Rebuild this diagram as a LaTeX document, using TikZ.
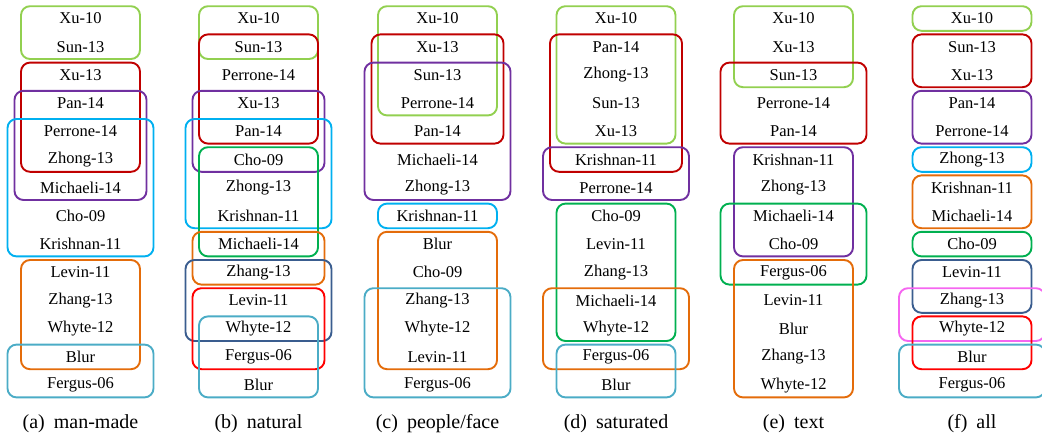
\documentclass[tikz,border=0pt]{standalone}
\usepackage{fontspec}
\setmainfont{Liberation Serif}
\usepackage{xcolor}
\usepackage{tikz}
\usetikzlibrary{fit}

\definecolor{lgreen}{HTML}{92D050}
\definecolor{dred}{HTML}{C00000}
\definecolor{mpurple}{HTML}{7030A0}
\definecolor{mcyan}{HTML}{00B0F0}
\definecolor{morange}{HTML}{E46C0A}
\definecolor{mteal}{HTML}{4BACC6}
\definecolor{mgreen}{HTML}{00B050}
\definecolor{mnavy}{HTML}{3A5D8F}
\definecolor{mred}{HTML}{FF0000}
\definecolor{mpink}{HTML}{F566F0}

\begin{document}
\begin{tikzpicture}[
    x=1pt, y=-1pt,
    method/.style={inner sep=0pt, font=\fontsize{16.5}{18}\selectfont},
    subcap/.style={inner sep=0pt, font=\fontsize{20}{22}\selectfont},
    grp/.style={draw=#1, rounded corners=9pt, line width=1.9pt, inner ysep=12.3pt},
    narrow/.style={inner xsep=59.5pt},
    mid/.style={inner xsep=66pt},
    wide/.style={inner xsep=73pt}
  ]
  \useasboundingbox (0,0) rectangle (1042,439);

  % method names, one column per image class
  \foreach \name [count=\r from 0] in {Xu-10,Sun-13,Xu-13,Pan-14,Perrone-14,Zhong-13,Michaeli-14,Cho-09,Krishnan-11,Levin-11,Zhang-13,Whyte-12,Blur,Fergus-06}
    \node[method] (a\r) at (80.5,{18.5+28.2*\r}) {\name};
  \foreach \name [count=\r from 0] in {Xu-10,Sun-13,Perrone-14,Xu-13,Pan-14,Cho-09,Zhong-13,Krishnan-11,Michaeli-14,Zhang-13,Levin-11,Whyte-12,Fergus-06,Blur}
    \node[method] (b\r) at (258.5,{18.5+28.2*\r}) {\name};
  \foreach \name [count=\r from 0] in {Xu-10,Xu-13,Sun-13,Perrone-14,Pan-14,Michaeli-14,Zhong-13,Krishnan-11,Blur,Cho-09,Zhang-13,Whyte-12,Levin-11,Fergus-06}
    \node[method] (c\r) at (437.5,{18.5+28.2*\r}) {\name};
  \foreach \name [count=\r from 0] in {Xu-10,Pan-14,Zhong-13,Sun-13,Xu-13,Krishnan-11,Perrone-14,Cho-09,Levin-11,Zhang-13,Michaeli-14,Whyte-12,Fergus-06,Blur}
    \node[method] (d\r) at (616,{18.5+28.2*\r}) {\name};
  \foreach \name [count=\r from 0] in {Xu-10,Xu-13,Sun-13,Perrone-14,Pan-14,Krishnan-11,Zhong-13,Michaeli-14,Cho-09,Fergus-06,Levin-11,Blur,Zhang-13,Whyte-12}
    \node[method] (e\r) at (793.5,{18.5+28.2*\r}) {\name};
  \foreach \name [count=\r from 0] in {Xu-10,Sun-13,Xu-13,Pan-14,Perrone-14,Zhong-13,Krishnan-11,Michaeli-14,Cho-09,Levin-11,Zhang-13,Whyte-12,Blur,Fergus-06}
    \node[method] (f\r) at (972,{18.5+28.2*\r}) {\name};

  % (a) man-made
  \node[grp=lgreen, narrow, fit=(a0.center)(a1.center)] (ga1) {};
  \node[grp=dred, narrow, fit=(a2.center)(a5.center)] (ga2) {};
  \node[grp=mpurple, mid, fit=(a3.center)(a6.center)] (ga3) {};
  \node[grp=mcyan, wide, fit=(a4.center)(a8.center)] (ga4) {};
  \node[grp=morange, narrow, fit=(a9.center)(a12.center)] (ga5) {};
  \node[grp=mteal, wide, fit=(a12.center)(a13.center)] (ga6) {};

  % (b) natural
  \node[grp=lgreen, narrow, fit=(b0.center)(b1.center)] (gb1) {};
  \node[grp=dred, narrow, fit=(b1.center)(b4.center)] (gb2) {};
  \node[grp=mpurple, mid, fit=(b3.center)(b5.center)] (gb3) {};
  \node[grp=mcyan, wide, fit=(b4.center)(b7.center)] (gb4) {};
  \node[grp=mgreen, narrow, fit=(b5.center)(b8.center)] (gb5) {};
  \node[grp=morange, mid, fit=(b8.center)(b9.center)] (gb6) {};
  \node[grp=mnavy, wide, fit=(b9.center)(b11.center)] (gb7) {};
  \node[grp=mred, mid, fit=(b10.center)(b12.center)] (gb8) {};
  \node[grp=mteal, narrow, fit=(b11.center)(b13.center)] (gb9) {};

  % (c) people/face
  \node[grp=lgreen, narrow, fit=(c0.center)(c3.center)] (gc1) {};
  \node[grp=dred, mid, fit=(c1.center)(c4.center)] (gc2) {};
  \node[grp=mpurple, wide, fit=(c2.center)(c6.center)] (gc3) {};
  \node[grp=mcyan, narrow, fit=(c7.center)] (gc4) {};
  \node[grp=morange, narrow, fit=(c8.center)(c12.center)] (gc5) {};
  \node[grp=mteal, wide, fit=(c10.center)(c13.center)] (gc6) {};

  % (d) saturated
  \node[grp=lgreen, narrow, fit=(d0.center)(d4.center)] (gd1) {};
  \node[grp=dred, mid, fit=(d1.center)(d5.center)] (gd2) {};
  \node[grp=mpurple, wide, fit=(d5.center)(d6.center)] (gd3) {};
  \node[grp=mgreen, narrow, fit=(d7.center)(d11.center)] (gd4) {};
  \node[grp=morange, wide, fit=(d10.center)(d12.center)] (gd5) {};
  \node[grp=mteal, narrow, fit=(d12.center)(d13.center)] (gd6) {};

  % (e) text
  \node[grp=lgreen, narrow, fit=(e0.center)(e2.center)] (ge1) {};
  \node[grp=dred, wide, fit=(e2.center)(e4.center)] (ge2) {};
  \node[grp=mpurple, narrow, fit=(e5.center)(e8.center)] (ge3) {};
  \node[grp=mgreen, wide, fit=(e7.center)(e9.center)] (ge4) {};
  \node[grp=morange, narrow, fit=(e9.center)(e13.center)] (ge5) {};

  % (f) all
  \node[grp=lgreen, narrow, fit=(f0.center)] (gf1) {};
  \node[grp=dred, narrow, fit=(f1.center)(f2.center)] (gf2) {};
  \node[grp=mpurple, narrow, fit=(f3.center)(f4.center)] (gf3) {};
  \node[grp=mcyan, narrow, fit=(f5.center)] (gf4) {};
  \node[grp=morange, narrow, fit=(f6.center)(f7.center)] (gf5) {};
  \node[grp=mgreen, narrow, fit=(f8.center)] (gf6) {};
  \node[grp=mnavy, narrow, fit=(f9.center)(f10.center)] (gf7) {};
  \node[grp=mpink, wide, fit=(f10.center)(f11.center)] (gf8) {};
  \node[grp=mred, narrow, fit=(f11.center)(f12.center)] (gf9) {};
  \node[grp=mteal, wide, fit=(f12.center)(f13.center)] (gf10) {};

  % sub-captions
  \node[subcap] (capa) at (80.5,424) {(a)\hspace{0.45em}man-made};
  \node[subcap] (capb) at (258.5,424) {(b)\hspace{0.45em}natural};
  \node[subcap] (capc) at (437.5,424) {(c)\hspace{0.45em}people/face};
  \node[subcap] (capd) at (616,424) {(d)\hspace{0.45em}saturated};
  \node[subcap] (cape) at (793.5,424) {(e)\hspace{0.45em}text};
  \node[subcap] (capf) at (972,424) {(f)\hspace{0.45em}all};
\end{tikzpicture}
\end{document}
